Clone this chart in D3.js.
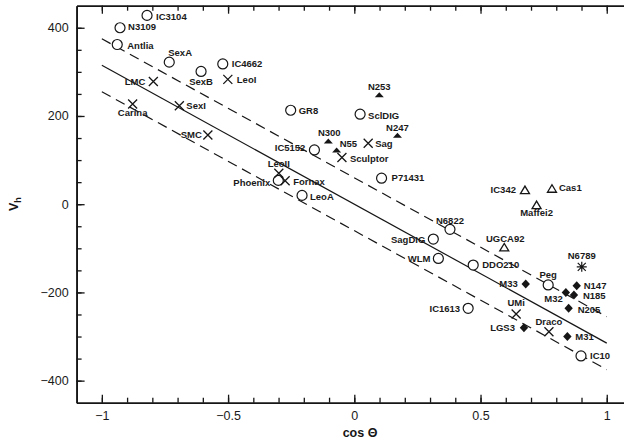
<!DOCTYPE html>
<html>
<head>
<meta charset="utf-8">
<script src="https://cdn.jsdelivr.net/npm/d3@7"></script>
<style>
  body { margin: 0; background: #fff; }
  svg { display: block; }
  .tick text { font-family: 'Liberation Sans', Arial, sans-serif; font-size: 12.5px; fill: #1a1a1a; }
  .lbl { font-family: 'Liberation Sans', Arial, sans-serif; font-size: 9.5px; font-weight: bold; fill: #1a1a1a; }
</style>
</head>
<body>
<div class="graph"></div>
<script>
const width = 624;
const height = 443;

// [name, cos theta, Vh]
const openCircles = [
  ['IC3104', -0.821, 428], ['N3109', -0.928, 400], ['Antlia', -0.939, 362],
  ['SexA', -0.733, 322], ['SexB', -0.607, 301], ['IC4662', -0.521, 318],
  ['GR8', -0.252, 213], ['SclDIG', 0.023, 204], ['IC5152', -0.158, 123],
  ['Phoenix', -0.301, 54], ['LeoA', -0.207, 20], ['P71431', 0.108, 59],
  ['N6822', 0.379, -57], ['SagDIG', 0.313, -79], ['WLM', 0.333, -123],
  ['DDO210', 0.471, -138], ['Peg', 0.768, -183], ['IC1613', 0.451, -236],
  ['IC10', 0.898, -344]
];
const crosses = [
  ['LMC', -0.796, 278], ['Carina', -0.878, 227], ['SexI', -0.693, 223],
  ['SMC', -0.580, 157], ['LeoI', -0.501, 283], ['Sag', 0.055, 138],
  ['Sculptor', -0.049, 106], ['LeoII', -0.299, 70], ['Fornax', -0.274, 53],
  ['UMi', 0.641, -249], ['Draco', 0.771, -289]
];
const filledTriangles = [
  ['N253', 0.099, 247], ['N247', 0.171, 155], ['N300', -0.103, 142], ['N55', -0.070, 122]
];
const openTriangles = [
  ['IC342', 0.676, 32], ['Cas1', 0.783, 35], ['Maffei2', 0.722, -2], ['UGCA92', 0.594, -98]
];
const diamonds = [
  ['M33', 0.679, -181], ['N147', 0.881, -185], ['M32', 0.838, -200], ['N185', 0.870, -206],
  ['N205', 0.849, -236], ['LGS3', 0.672, -280], ['M31', 0.844, -300]
];
const stars = [['N6789', 0.901, -142]];

const fitSlope = -315;
const fitBand = 60;
const fitRange = [-1, 1];

const xMajor = [-1, -0.5, 0, 0.5, 1];
const xMinor = d3.range(-10, 11).map(d => d / 10);
const yMajor = [-400, -200, 0, 200, 400];
const yMinor = d3.range(-8, 9).map(d => d * 50);

// label placement: dx, dy, anchor
const labelPlace = {
  IC3104: [9, 1, 'start'], N3109: [8, -1, 'start'], Antlia: [10, 1, 'start'],
  SexA: [-1, -9, 'start'], SexB: [0, 10, 'middle'], IC4662: [9, 0, 'start'],
  LeoI: [9, 0, 'start'], LMC: [-8, 0, 'end'], Carina: [0, 9, 'middle'],
  SexI: [7, 0, 'start'], SMC: [-6, 0, 'end'], GR8: [8, 0, 'start'],
  SclDIG: [8, 1, 'start'], N253: [0, -9, 'middle'], N247: [0, -8, 'middle'],
  N300: [1, -9, 'middle'], N55: [3, -7, 'start'], Sag: [7, 0, 'start'],
  Sculptor: [8, 1, 'start'], IC5152: [-9, -2, 'end'], LeoII: [0, -10, 'middle'],
  Phoenix: [-8, 2, 'end'], Fornax: [8, 1, 'start'], LeoA: [8, 1, 'start'],
  P71431: [10, 0, 'start'], N6822: [0, -9, 'middle'], SagDIG: [-8, 1, 'end'],
  WLM: [-8, 0, 'end'], DDO210: [9, 0, 'start'], UGCA92: [1, -9, 'middle'],
  IC342: [-9, 0, 'end'], Cas1: [7, -1, 'start'], Maffei2: [0, 8, 'middle'],
  N6789: [0, -11, 'middle'], Peg: [0, -10, 'middle'], M33: [-8, 0, 'end'],
  N147: [7, 0, 'start'], M32: [-3, 6, 'end'], N185: [9, 1, 'start'],
  N205: [9, 1, 'start'], IC1613: [-8, 0, 'end'], UMi: [0, -11, 'middle'],
  LGS3: [-9, 0, 'end'], Draco: [0, -10, 'middle'], M31: [8, 0, 'start'],
  IC10: [9, 0, 'start']
};

const ink = '#161616';

const x = d3.scaleLinear().domain([-1.1, 1.1]).range([76.6, 632]);
const y = d3.scaleLinear().domain([-450, 450]).range([402.7, 5.7]);

const svg = d3.select('.graph')
  .append('svg')
    .attr('width', width)
    .attr('height', height)
    .attr('viewBox', [0, 0, width, height]);

// axes
const axisG = svg.append('g');

axisG.append('g')
  .attr('transform', `translate(0,${y.range()[0]})`)
  .call(d3.axisBottom(x).tickValues(xMinor).tickSizeInner(-5).tickSizeOuter(0).tickFormat(''));
axisG.append('g')
  .attr('transform', `translate(0,${y.range()[0]})`)
  .call(d3.axisBottom(x).tickValues(xMajor).tickSizeInner(-8).tickSizeOuter(0).tickPadding(8)
    .tickFormat(d3.format('~g')));
axisG.append('g')
  .attr('transform', `translate(0,${y.range()[1]})`)
  .call(d3.axisTop(x).tickValues(xMinor).tickSizeInner(-5).tickSizeOuter(0).tickFormat(''));
axisG.append('g')
  .attr('transform', `translate(0,${y.range()[1]})`)
  .call(d3.axisTop(x).tickValues(xMajor).tickSizeInner(-8).tickSizeOuter(0).tickFormat(''));
axisG.append('g')
  .attr('transform', `translate(${x.range()[0]},0)`)
  .call(d3.axisLeft(y).tickValues(yMinor).tickSizeInner(-5).tickSizeOuter(0).tickFormat(''));
axisG.append('g')
  .attr('transform', `translate(${x.range()[0]},0)`)
  .call(d3.axisLeft(y).tickValues(yMajor).tickSizeInner(-8).tickSizeOuter(0).tickPadding(8)
    .tickFormat(d3.format('~g')));
axisG.append('g')
  .attr('transform', `translate(${x.range()[1]},0)`)
  .call(d3.axisRight(y).tickValues(yMajor).tickSizeInner(-8).tickSizeOuter(0).tickFormat(''));

axisG.selectAll('.domain').attr('stroke', ink).attr('stroke-width', 1.6);
axisG.selectAll('.tick line').attr('stroke', ink).attr('stroke-width', 1.3);

svg.append('text')
  .attr('x', 360)
  .attr('y', 437)
  .attr('text-anchor', 'middle')
  .style('font-family', "'Liberation Sans', Arial, sans-serif")
  .style('font-size', '12.5px')
  .style('font-weight', 'bold')
  .style('fill', ink)
  .text('cos \u0398');

const yl = svg.append('text')
  .attr('transform', `translate(18,${y(0)}) rotate(-90)`)
  .attr('text-anchor', 'middle')
  .style('font-family', "'Liberation Sans', Arial, sans-serif")
  .style('font-size', '12.5px')
  .style('font-weight', 'bold')
  .style('fill', ink);
yl.append('tspan').text('V');
yl.append('tspan').attr('dy', 3).style('font-size', '9px').text('h');

// fit lines
const fitLine = d3.line().x(d => x(d[0])).y(d => y(d[1]));
[0, fitBand, -fitBand].forEach(off => {
  svg.append('path')
    .attr('d', fitLine(fitRange.map(c => [c, fitSlope * c + off])))
    .attr('fill', 'none')
    .attr('stroke', ink)
    .attr('stroke-width', 1.2)
    .attr('stroke-dasharray', off === 0 ? null : '10,6');
});

// symbols
const shapes = {
  circle: g => g.append('circle').attr('r', 5).attr('fill', '#fff').attr('stroke', ink).attr('stroke-width', 1.2),
  cross: g => g.append('path').attr('d', 'M-4.5,-4.5L4.5,4.5M-4.5,4.5L4.5,-4.5').attr('stroke', ink).attr('stroke-width', 1.3),
  tri: g => g.append('path').attr('d', 'M-4.5,2L4.5,2L0,-3Z').attr('fill', ink),
  otri: g => g.append('path').attr('d', 'M-4.5,3.5L4.5,3.5L0,-4Z').attr('fill', '#fff').attr('stroke', ink).attr('stroke-width', 1.3),
  diamond: g => g.append('path').attr('d', 'M-4.2,0L0,-4.5L4.2,0L0,4.5Z').attr('fill', ink),
  star: g => g.append('path').attr('d', 'M-4,-4L4,4M-4,4L4,-4M0,-5L0,5M-5,0L5,0').attr('stroke', ink).attr('stroke-width', 1.2)
};

const groups = [
  [openCircles, 'circle'], [crosses, 'cross'], [filledTriangles, 'tri'],
  [openTriangles, 'otri'], [diamonds, 'diamond'], [stars, 'star']
];

groups.forEach(([data, kind]) => {
  const node = svg.selectAll(`.pt-${kind}`)
    .data(data)
    .join('g')
      .attr('class', `pt-${kind}`)
      .attr('transform', d => `translate(${x(d[1])},${y(d[2])})`);
  node.each(function() { shapes[kind](d3.select(this)); });
});

groups.forEach(([data]) => {
  svg.append('g').selectAll('text')
    .data(data)
    .join('text')
      .attr('class', 'lbl')
      .attr('x', d => x(d[1]) + labelPlace[d[0]][0])
      .attr('y', d => y(d[2]) + labelPlace[d[0]][1])
      .attr('dy', '0.35em')
      .attr('text-anchor', d => labelPlace[d[0]][2])
      .text(d => d[0]);
});
</script>
</body>
</html>
